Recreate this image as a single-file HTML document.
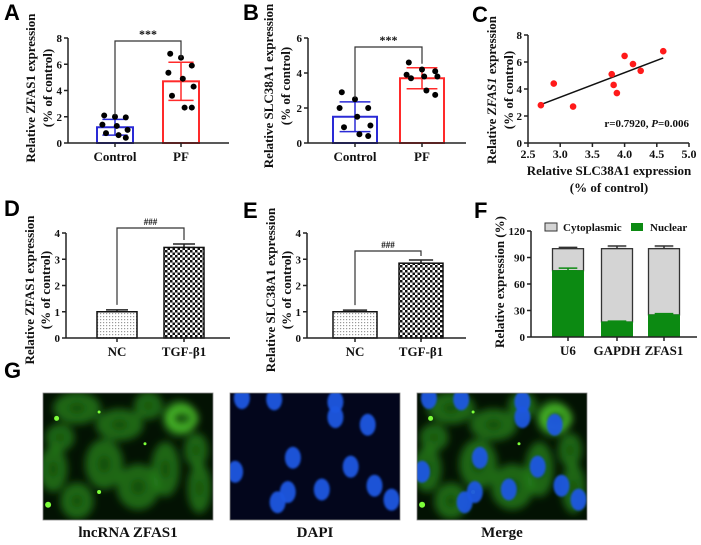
<!DOCTYPE html>
<html><head><meta charset="utf-8"><style>
html,body{margin:0;padding:0;background:#fff;}
svg{display:block;}
text{font-family:"Liberation Serif",serif;font-weight:bold;fill:#111;}
.pl{font-family:"Liberation Sans",sans-serif;font-weight:bold;font-size:22px;fill:#000;}
.tt{font-size:13px;}
.tk{font-size:11px;}
.ct{font-size:13px;}
</style></head><body>
<svg id="fig" width="701" height="545" viewBox="0 0 701 545" xmlns="http://www.w3.org/2000/svg">
<defs>
<pattern id="dots" width="3" height="3" patternUnits="userSpaceOnUse"><rect width="3" height="3" fill="#fff"/><rect x="1" y="1" width="1.2" height="1.2" fill="#999"/></pattern>
<pattern id="check" width="5" height="5" patternUnits="userSpaceOnUse"><rect width="5" height="5" fill="#fff"/><rect width="2.5" height="2.5" fill="#111"/><rect x="2.5" y="2.5" width="2.5" height="2.5" fill="#111"/></pattern>
<filter id="blur2"><feGaussianBlur stdDeviation="4"/></filter>
<filter id="blur1"><feGaussianBlur stdDeviation="1"/></filter>
<clipPath id="c1"><rect x="43" y="393" width="170" height="127"/></clipPath>
<clipPath id="c2"><rect x="230" y="393" width="170" height="127"/></clipPath>
<clipPath id="c3"><rect x="417" y="393" width="170" height="127"/></clipPath>
</defs>

<text class="pl" x="4" y="20">A</text>
<text class="pl" x="243" y="20">B</text>
<text class="pl" x="472" y="22">C</text>
<text class="pl" x="4" y="216">D</text>
<text class="pl" x="243" y="218">E</text>
<text class="pl" x="474" y="218">F</text>
<text class="pl" x="4" y="378">G</text>

<g>
<text class="tt" transform="translate(35,88) rotate(-90)" text-anchor="middle">Relative ZFAS1 expression</text>
<text class="tt" transform="translate(52,88) rotate(-90)" text-anchor="middle">(% of control)</text></g>
<g>
<text class="tt" transform="translate(273,86) rotate(-90)" text-anchor="middle">Relative SLC38A1 expression</text>
<text class="tt" transform="translate(290,86) rotate(-90)" text-anchor="middle">(% of control)</text></g>
<g>
<text class="tt" transform="translate(496,90) rotate(-90)" text-anchor="middle">Relative <tspan font-style="italic">ZFAS1</tspan> expression</text>
<text class="tt" transform="translate(513,90) rotate(-90)" text-anchor="middle">(% of control)</text></g>
<g>
<text class="tt" x="609" y="175" text-anchor="middle">Relative SLC38A1 expression</text>
<text class="tt" x="609" y="192" text-anchor="middle">(% of control)</text></g>
<g>
<text class="tt" transform="translate(34,290) rotate(-90)" text-anchor="middle">Relative ZFAS1 expression</text>
<text class="tt" transform="translate(50,290) rotate(-90)" text-anchor="middle">(% of control)</text></g>
<g>
<text class="tt" transform="translate(275,290) rotate(-90)" text-anchor="middle">Relative SLC38A1 expression</text>
<text class="tt" transform="translate(291,290) rotate(-90)" text-anchor="middle">(% of control)</text></g>
<g>
<text class="tt" transform="translate(504,282) rotate(-90)" text-anchor="middle">Relative expression (%)</text></g>

<g id="charts"></g>

<g><rect x="43" y="393" width="170" height="127" fill="#031203"/><g id="gimg" clip-path="url(#c1)"></g><rect x="43" y="393" width="170" height="127" fill="none" stroke="#888" stroke-width="0.8"/></g>
<g><rect x="230" y="393" width="170" height="127" fill="#03061c"/><g id="bimg" clip-path="url(#c2)"></g><rect x="230" y="393" width="170" height="127" fill="none" stroke="#888" stroke-width="0.8"/></g>
<g><rect x="417" y="393" width="170" height="127" fill="#031203"/><g id="mimg" clip-path="url(#c3)"></g><rect x="417" y="393" width="170" height="127" fill="none" stroke="#888" stroke-width="0.8"/></g>
<text x="128" y="537" font-size="15" text-anchor="middle">lncRNA ZFAS1</text>
<text x="315" y="537" font-size="15" text-anchor="middle">DAPI</text>
<text x="502" y="537" font-size="15" text-anchor="middle">Merge</text>
</svg>
<script>
const catsA = ['Control','PF'];
const meanA = [1.2, 4.7];
const sdA = [0.6, 1.45];
const dotsA0 = [2.1, 2.0, 1.95, 1.4, 1.3, 1.0, 0.75, 0.6, 0.4];
const dotsA1 = [6.8, 6.5, 5.9, 5.35, 4.9, 4.3, 3.6, 2.7, 2.7];
const ticksA = [0, 2, 4, 6, 8];

const catsB = ['Control','PF'];
const meanB = [1.5, 3.7];
const sdB = [0.85, 0.6];
const dotsB0 = [2.9, 2.5, 2.0, 2.0, 1.5, 1.0, 0.9, 0.5, 0.4];
const dotsB1 = [4.6, 4.2, 4.1, 3.9, 3.8, 3.8, 3.7, 3.0, 2.75];
const ticksB = [0, 2, 4, 6];

const scatX = [2.7, 2.9, 3.2, 3.8, 3.83, 3.88, 4.0, 4.13, 4.25, 4.6];
const scatY = [2.8, 4.4, 2.7, 5.1, 4.3, 3.7, 6.45, 5.85, 5.35, 6.8];
const fitX = [2.7, 4.6];
const fitY = [2.85, 6.3];
const ticksCx = [2.5, 3.0, 3.5, 4.0, 4.5, 5.0];
const ticksCy = [0, 2, 4, 6, 8];

const catsD = ['NC','TGF-β1'];
const meanD = [1.0, 3.45];
const errD = [0.07, 0.13];
const catsE = ['NC','TGF-β1'];
const meanE = [1.0, 2.85];
const errE = [0.06, 0.12];
const ticksDE = [0, 1, 2, 3, 4];

const catsF = ['U6','GAPDH','ZFAS1'];
const nuclearF = [75, 17, 25];
const nuclearErrF = [3, 1, 1.5];
const totalF = [100, 100, 100];
const totalErrF = [1.5, 3, 3];
const ticksF = [0, 30, 60, 90, 120];

const NS = 'http://www.w3.org/2000/svg';
const root = document.getElementById('charts');
function mk(tag, attrs, parent) {
  const e = document.createElementNS(NS, tag);
  for (const k in attrs) e.setAttribute(k, attrs[k]);
  (parent || root).appendChild(e);
  return e;
}
function lin(d0, d1, r0, r1) { return v => r0 + (v - d0) / (d1 - d0) * (r1 - r0); }

function yAxis(g, x0, y, ticks, labels) {
  const ax = mk('line', {x1:x0, y1:y(ticks[0]), x2:x0, y2:y(ticks[ticks.length-1]), stroke:'#222', 'stroke-width':1.5}, g);
  
  
  ticks.forEach((t, i) => {
    mk('line', {x1:x0-4, y1:y(t), x2:x0, y2:y(t), stroke:'#222', 'stroke-width':1.5}, g);
    const tx = mk('text', {x:x0-6, y:y(t)+4, 'text-anchor':'end', class:'tk'}, g);
    tx.textContent = labels ? labels[i] : t;
    
    
  });
}
function xAxisLine(g, x0, x1, y0) {
  const ax = mk('line', {x1:x0, y1:y0, x2:x1, y2:y0, stroke:'#222', 'stroke-width':1.5}, g);
  
  
}
function catLabel(g, x, y0, s) {
  mk('line', {x1:x, y1:y0, x2:x, y2:y0+4, stroke:'#222', 'stroke-width':1.5}, g);
  const t = mk('text', {x:x, y:y0+18, 'text-anchor':'middle', class:'ct'}, g);
  t.textContent = s;
  
  
}
function errBar(g, x, lo, hi, w, color) {
  mk('line', {x1:x, y1:lo, x2:x, y2:hi, stroke:color, 'stroke-width':1.5}, g);
  mk('line', {x1:x-w/2, y1:hi, x2:x+w/2, y2:hi, stroke:color, 'stroke-width':1.5}, g);
  mk('line', {x1:x-w/2, y1:lo, x2:x+w/2, y2:lo, stroke:color, 'stroke-width':1.5}, g);
}
function bracket(g, xa, xb, ya, yb, ytop, label, fs) {
  const p = mk('path', {d:`M${xa},${ya} L${xa},${ytop} L${xb},${ytop} L${xb},${yb}`, fill:'none', stroke:'#333', 'stroke-width':1.2}, g);
  
  
  const t = mk('text', {x:(xa+xb)/2, y:ytop-3, 'text-anchor':'middle', 'font-size':fs}, g);
  t.textContent = label;
  
  
}

function dotPanel(name, cats, means, sds, dots, ticks, cfg) {
  const g = mk('g', {});
  
  
  const y = lin(0, ticks[ticks.length-1], cfg.y0, cfg.yTop);
  const colors = ['#2a2ad6', '#ff2a2a'];
  const jit = [-0.3, 0, 0.3, -0.35, 0.05, 0.35, -0.25, 0.1, 0.3];
  cats.forEach((c, i) => {
    const cx = cfg.centers[i];
    const r = mk('rect', {x:cx-cfg.bw/2, y:y(means[i]), width:cfg.bw, height:cfg.y0-y(means[i]), fill:'#fff', stroke:colors[i], 'stroke-width':2}, g);
    
    
    errBar(g, cx, y(means[i]-sds[i]), y(means[i]+sds[i]), cfg.bw*0.7, colors[i]);
    dots[i].forEach((v, j) => {
      const d = mk('circle', {cx:cx + jit[j % jit.length]*cfg.bw, cy:y(v), r:3, fill:'#000'}, g);
      
      
    });
    catLabel(g, cx, cfg.y0, c);
  });
  yAxis(g, cfg.x0, y, ticks);
  xAxisLine(g, cfg.x0, cfg.xEnd, cfg.y0);
  bracket(g, cfg.centers[0], cfg.centers[1], y(means[0]+sds[0])-4, y(means[1]+sds[1])-4, cfg.brTop, '***', 12);
}
dotPanel('panel-a-chart', catsA, meanA, sdA, [dotsA0, dotsA1], ticksA, {x0:68, y0:143, yTop:38, xEnd:229, centers:[115,181], bw:36, brTop:41});
dotPanel('panel-b-chart', catsB, meanB, sdB, [dotsB0, dotsB1], ticksB, {x0:308, y0:143, yTop:38, xEnd:466, centers:[355,422], bw:44, brTop:47});

(function(){
  const g = mk('g', {});
  
  
  const x = lin(2.5, 5.0, 528, 689);
  const y = lin(0, 8, 143, 35);
  yAxis(g, 528, y, ticksCy);
  xAxisLine(g, 528, 689, 143);
  ticksCx.forEach(t => {
    mk('line', {x1:x(t), y1:143, x2:x(t), y2:147, stroke:'#222', 'stroke-width':1.5}, g);
    const tx = mk('text', {x:x(t), y:158, 'text-anchor':'middle', 'font-size':12}, g);
    tx.textContent = t.toFixed(1);
    
    
  });
  const fl = mk('line', {x1:x(fitX[0]), y1:y(fitY[0]), x2:x(fitX[1]), y2:y(fitY[1]), stroke:'#111', 'stroke-width':1.5}, g);
  
  
  scatX.forEach((v, i) => {
    const c = mk('circle', {cx:x(v), cy:y(scatY[i]), r:3.3, fill:'#ff1a1a'}, g);
    
    
  });
  const an = mk('text', {x:689, y:127, 'text-anchor':'end', 'font-size':11}, g);
  an.innerHTML = 'r=0.7920, <tspan font-style="italic">P</tspan>=0.006';
  
  
})();

function patPanel(name, cats, means, errs, cfg) {
  const g = mk('g', {});
  
  
  const y = lin(0, 4, cfg.y0, cfg.yTop);
  const fills = ['url(#dots)', 'url(#check)'];
  cats.forEach((c, i) => {
    const cx = cfg.centers[i];
    errBar(g, cx, y(means[i]), y(means[i]+errs[i]), cfg.bw*0.55, '#222');
    const r = mk('rect', {x:cx-cfg.bw/2, y:y(means[i]), width:cfg.bw, height:cfg.y0-y(means[i]), fill:fills[i], stroke:'#111', 'stroke-width':1.5}, g);
    
    
    catLabel(g, cx, cfg.y0, c);
  });
  yAxis(g, cfg.x0, y, ticksDE);
  xAxisLine(g, cfg.x0, cfg.xEnd, cfg.y0);
  bracket(g, cfg.centers[0], cfg.centers[1], y(means[0]+errs[0])-5, y(means[1]+errs[1])-4, cfg.brTop, '###', 9);
}
patPanel('panel-d-chart', catsD, meanD, errD, {x0:66, y0:338, yTop:233, xEnd:230, centers:[117,184], bw:40, brTop:228});
patPanel('panel-e-chart', catsE, meanE, errE, {x0:307, y0:338, yTop:233, xEnd:466, centers:[355,421], bw:44, brTop:251});

(function(){
  const g = mk('g', {});
  
  
  const y = lin(0, 120, 337, 231);
  const centers = [568, 617, 664];
  const bw = 31;
  catsF.forEach((c, i) => {
    const cx = centers[i];
    errBar(g, cx, y(totalF[i]), y(totalF[i]+totalErrF[i]), bw*0.6, '#333');
    const r1 = mk('rect', {x:cx-bw/2, y:y(totalF[i]), width:bw, height:y(nuclearF[i])-y(totalF[i]), fill:'#d4d4d4', stroke:'#333', 'stroke-width':1.3}, g);
    
    
    const r2 = mk('rect', {x:cx-bw/2, y:y(nuclearF[i]), width:bw, height:337-y(nuclearF[i]), fill:'#0c8a12', stroke:'#0c8a12', 'stroke-width':1}, g);
    
    
    errBar(g, cx, y(nuclearF[i]), y(nuclearF[i]+nuclearErrF[i]), bw*0.6, '#0c8a12');
    catLabel(g, cx, 337, c);
  });
  yAxis(g, 531, y, ticksF);
  xAxisLine(g, 531, 697, 337);
  const lg = mk('g', {}, g);
  
  
  mk('rect', {x:545, y:223, width:12, height:8, fill:'#d4d4d4', stroke:'#333', 'stroke-width':1}, lg);
  const t1 = mk('text', {x:563, y:231, 'font-size':11}, lg);
  t1.textContent = 'Cytoplasmic';
  
  
  mk('rect', {x:631, y:223, width:12, height:8, fill:'#0c8a12'}, lg);
  const t2 = mk('text', {x:650, y:231, 'font-size':11}, lg);
  t2.textContent = 'Nuclear';
  
  
})();

const cells = [[0.2,0.12,0.2,0.14],[0.8,0.2,0.14,0.16],[0.62,0.1,0.12,0.12],[0.06,0.6,0.12,0.2],[0.36,0.56,0.16,0.22],[0.56,0.74,0.18,0.2],[0.72,0.6,0.12,0.24],[0.92,0.75,0.1,0.22],[0.2,0.85,0.14,0.16],[0.45,0.25,0.2,0.14],[0.1,0.35,0.12,0.12],[0.9,0.45,0.1,0.15]];
const spots = [[0.08,0.2,2.5],[0.33,0.15,1.5],[0.6,0.4,1.5],[0.03,0.88,3],[0.33,0.78,2]];
const nuclei = [[0.07,0.04],[0.26,0.05],[0.62,0.07],[0.62,0.19],[0.81,0.25],[0.37,0.51],[0.03,0.62],[0.71,0.58],[0.54,0.76],[0.34,0.78],[0.28,0.86],[0.85,0.73],[0.95,0.84]];
function greenCells(gid, ox) {
  const g = document.getElementById(gid);
  const gb = mk('g', {filter:'url(#blur2)'}, g);
  cells.forEach(c => {
    mk('ellipse', {cx:ox+c[0]*170, cy:393+c[1]*127, rx:c[2]*170*0.7, ry:c[3]*127*0.9, fill:'#2a8a1e', opacity:0.7}, gb);
    mk('ellipse', {cx:ox+c[0]*170, cy:393+c[1]*127, rx:c[2]*170*0.25, ry:c[3]*127*0.33, fill:'#14420c', opacity:0.7}, gb);
  });
  mk('ellipse', {cx:ox+0.82*170, cy:393+0.2*127, rx:13, ry:10, fill:'none', stroke:'#5fe834', 'stroke-width':4}, gb);
  spots.forEach(s => mk('circle', {cx:ox+s[0]*170, cy:393+s[1]*127, r:s[2], fill:'#7dff3a'}, g));
}
function blueNuclei(gid, ox) {
  const g = document.getElementById(gid);
  const gb = mk('g', {filter:'url(#blur1)'}, g);
  nuclei.forEach(n => mk('ellipse', {cx:ox+n[0]*170, cy:393+n[1]*127, rx:8, ry:11, fill:'#1a56e0', opacity:0.95}, gb));
}
greenCells('gimg', 43);
blueNuclei('bimg', 230);
greenCells('mimg', 417);
blueNuclei('mimg', 417);
</script>
</body></html>
